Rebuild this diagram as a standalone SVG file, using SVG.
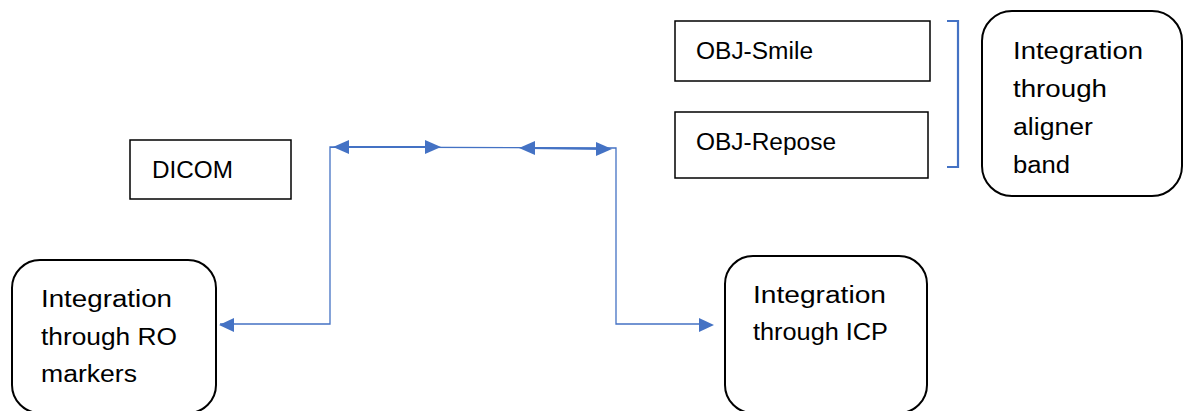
<svg xmlns="http://www.w3.org/2000/svg" width="1189" height="411" viewBox="0 0 1189 411">
<style>
.box{fill:#fff;stroke:#000;stroke-width:1.5}
.rbox{fill:#fff;stroke:#000;stroke-width:2}
.t{font-family:"Liberation Sans",Arial,sans-serif;font-size:23px;fill:#000}
.ln{fill:none;stroke:#4472C4;stroke-width:1.3}
.dl{fill:none;stroke:#4472C4;stroke-width:2}
.br{fill:none;stroke:#4472C4;stroke-width:2.2}
.ah{fill:#4472C4}
</style>
<rect width="1189" height="411" fill="#fff"/>
<g id="connectors">
<polyline class="ln" points="220,324 330,324 330,147 616,148 616,324 700,324"/>
<line class="dl" x1="340" y1="147" x2="435" y2="147"/>
<line class="dl" x1="528" y1="148" x2="604" y2="149"/>
<polygon class="ah" points="219,325 234,318 234,332"/>
<polygon class="ah" points="714,325 699,318 699,332"/>
<polygon class="ah" points="333,147 349,140 349,154"/>
<polygon class="ah" points="441,147 425,140 425,154"/>
<polygon class="ah" points="519,148 535,141 535,155"/>
<polygon class="ah" points="612,149 596,142 596,156"/>
<polyline class="br" points="947,21 958,21 958,167 947,167"/>
</g>
<g id="dicom">
<rect class="box" x="130" y="140" width="161" height="59"/>
<text class="t" x="152" y="178" textLength="81" lengthAdjust="spacingAndGlyphs">DICOM</text>
</g>
<g id="obj-smile">
<rect class="box" x="675" y="21" width="255" height="60"/>
<text class="t" x="696" y="59" textLength="117" lengthAdjust="spacingAndGlyphs">OBJ-Smile</text>
</g>
<g id="obj-repose">
<rect class="box" x="675" y="112" width="253" height="66"/>
<text class="t" x="696" y="150" textLength="140" lengthAdjust="spacingAndGlyphs">OBJ-Repose</text>
</g>
<g id="aligner-band">
<rect class="rbox" x="982" y="11" width="200" height="185" rx="30" ry="30"/>
<text class="t" x="1013" y="59" textLength="130" lengthAdjust="spacingAndGlyphs">Integration</text>
<text class="t" x="1013" y="97" textLength="94" lengthAdjust="spacingAndGlyphs">through</text>
<text class="t" x="1013" y="135" textLength="80" lengthAdjust="spacingAndGlyphs">aligner</text>
<text class="t" x="1013" y="173" textLength="57" lengthAdjust="spacingAndGlyphs">band</text>
</g>
<g id="ro-markers">
<rect class="rbox" x="12" y="260" width="204" height="153" rx="28" ry="28"/>
<text class="t" x="41" y="307" textLength="131" lengthAdjust="spacingAndGlyphs">Integration</text>
<text class="t" x="41" y="345" textLength="136" lengthAdjust="spacingAndGlyphs">through RO</text>
<text class="t" x="41" y="382" textLength="96" lengthAdjust="spacingAndGlyphs">markers</text>
</g>
<g id="icp">
<rect class="rbox" x="725" y="256" width="202" height="157" rx="28" ry="28"/>
<text class="t" x="753" y="303" textLength="133" lengthAdjust="spacingAndGlyphs">Integration</text>
<text class="t" x="753" y="340" textLength="135" lengthAdjust="spacingAndGlyphs">through ICP</text>
</g>
</svg>
